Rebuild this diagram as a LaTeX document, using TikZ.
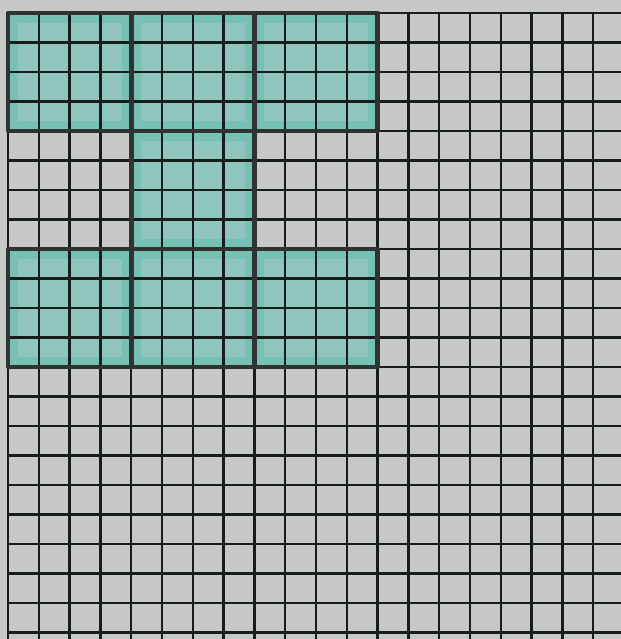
\documentclass[tikz,border=0pt]{standalone}
\usetikzlibrary{backgrounds}
\definecolor{paper}{RGB}{199,201,199}
\definecolor{shade}{RGB}{144,197,190}
\definecolor{shadeedge}{RGB}{82,188,166}
\definecolor{ink}{RGB}{24,28,26}
\tikzstyle{gridline}=[draw=ink, line width=2.2pt]
\tikzstyle{blockline}=[draw=ink!90, line width=4pt, line join=round]
\tikzstyle{shaded}=[fill=shade]
\tikzstyle{rim}=[draw=shadeedge, line width=6pt, opacity=.4]

\begin{document}
\begin{tikzpicture}[x=0.03cm, y=-0.03cm]
  \fill[paper] (0,0) rectangle (621,639);
  \useasboundingbox (0,0) rectangle (621,639);
  % coloured blocks, 4x4 cells each
  \foreach \c/\r in {0/0,1/0,2/0,1/1,0/2,1/2,2/2} {
    \fill[shaded] ({8+123.2*\c},{13+118*\r}) rectangle ++(123.2,118);
    \draw[rim] ({14+123.2*\c},{19+118*\r}) rectangle ++(111.2,106);
  }
  % squared paper
  \foreach \i in {0,...,19}
    \draw[gridline] ({8+30.8*\i},13) -- ({8+30.8*\i},639);
  \foreach \j in {0,...,21}
    \draw[gridline] (8,{13+29.5*\j}) -- (621,{13+29.5*\j});
  % pen outlines of the blocks
  \foreach \c/\r in {0/0,1/0,2/0,1/1,0/2,1/2,2/2}
    \draw[blockline] ({8+123.2*\c},{13+118*\r}) rectangle ++(123.2,118);
\end{tikzpicture}
\end{document}
